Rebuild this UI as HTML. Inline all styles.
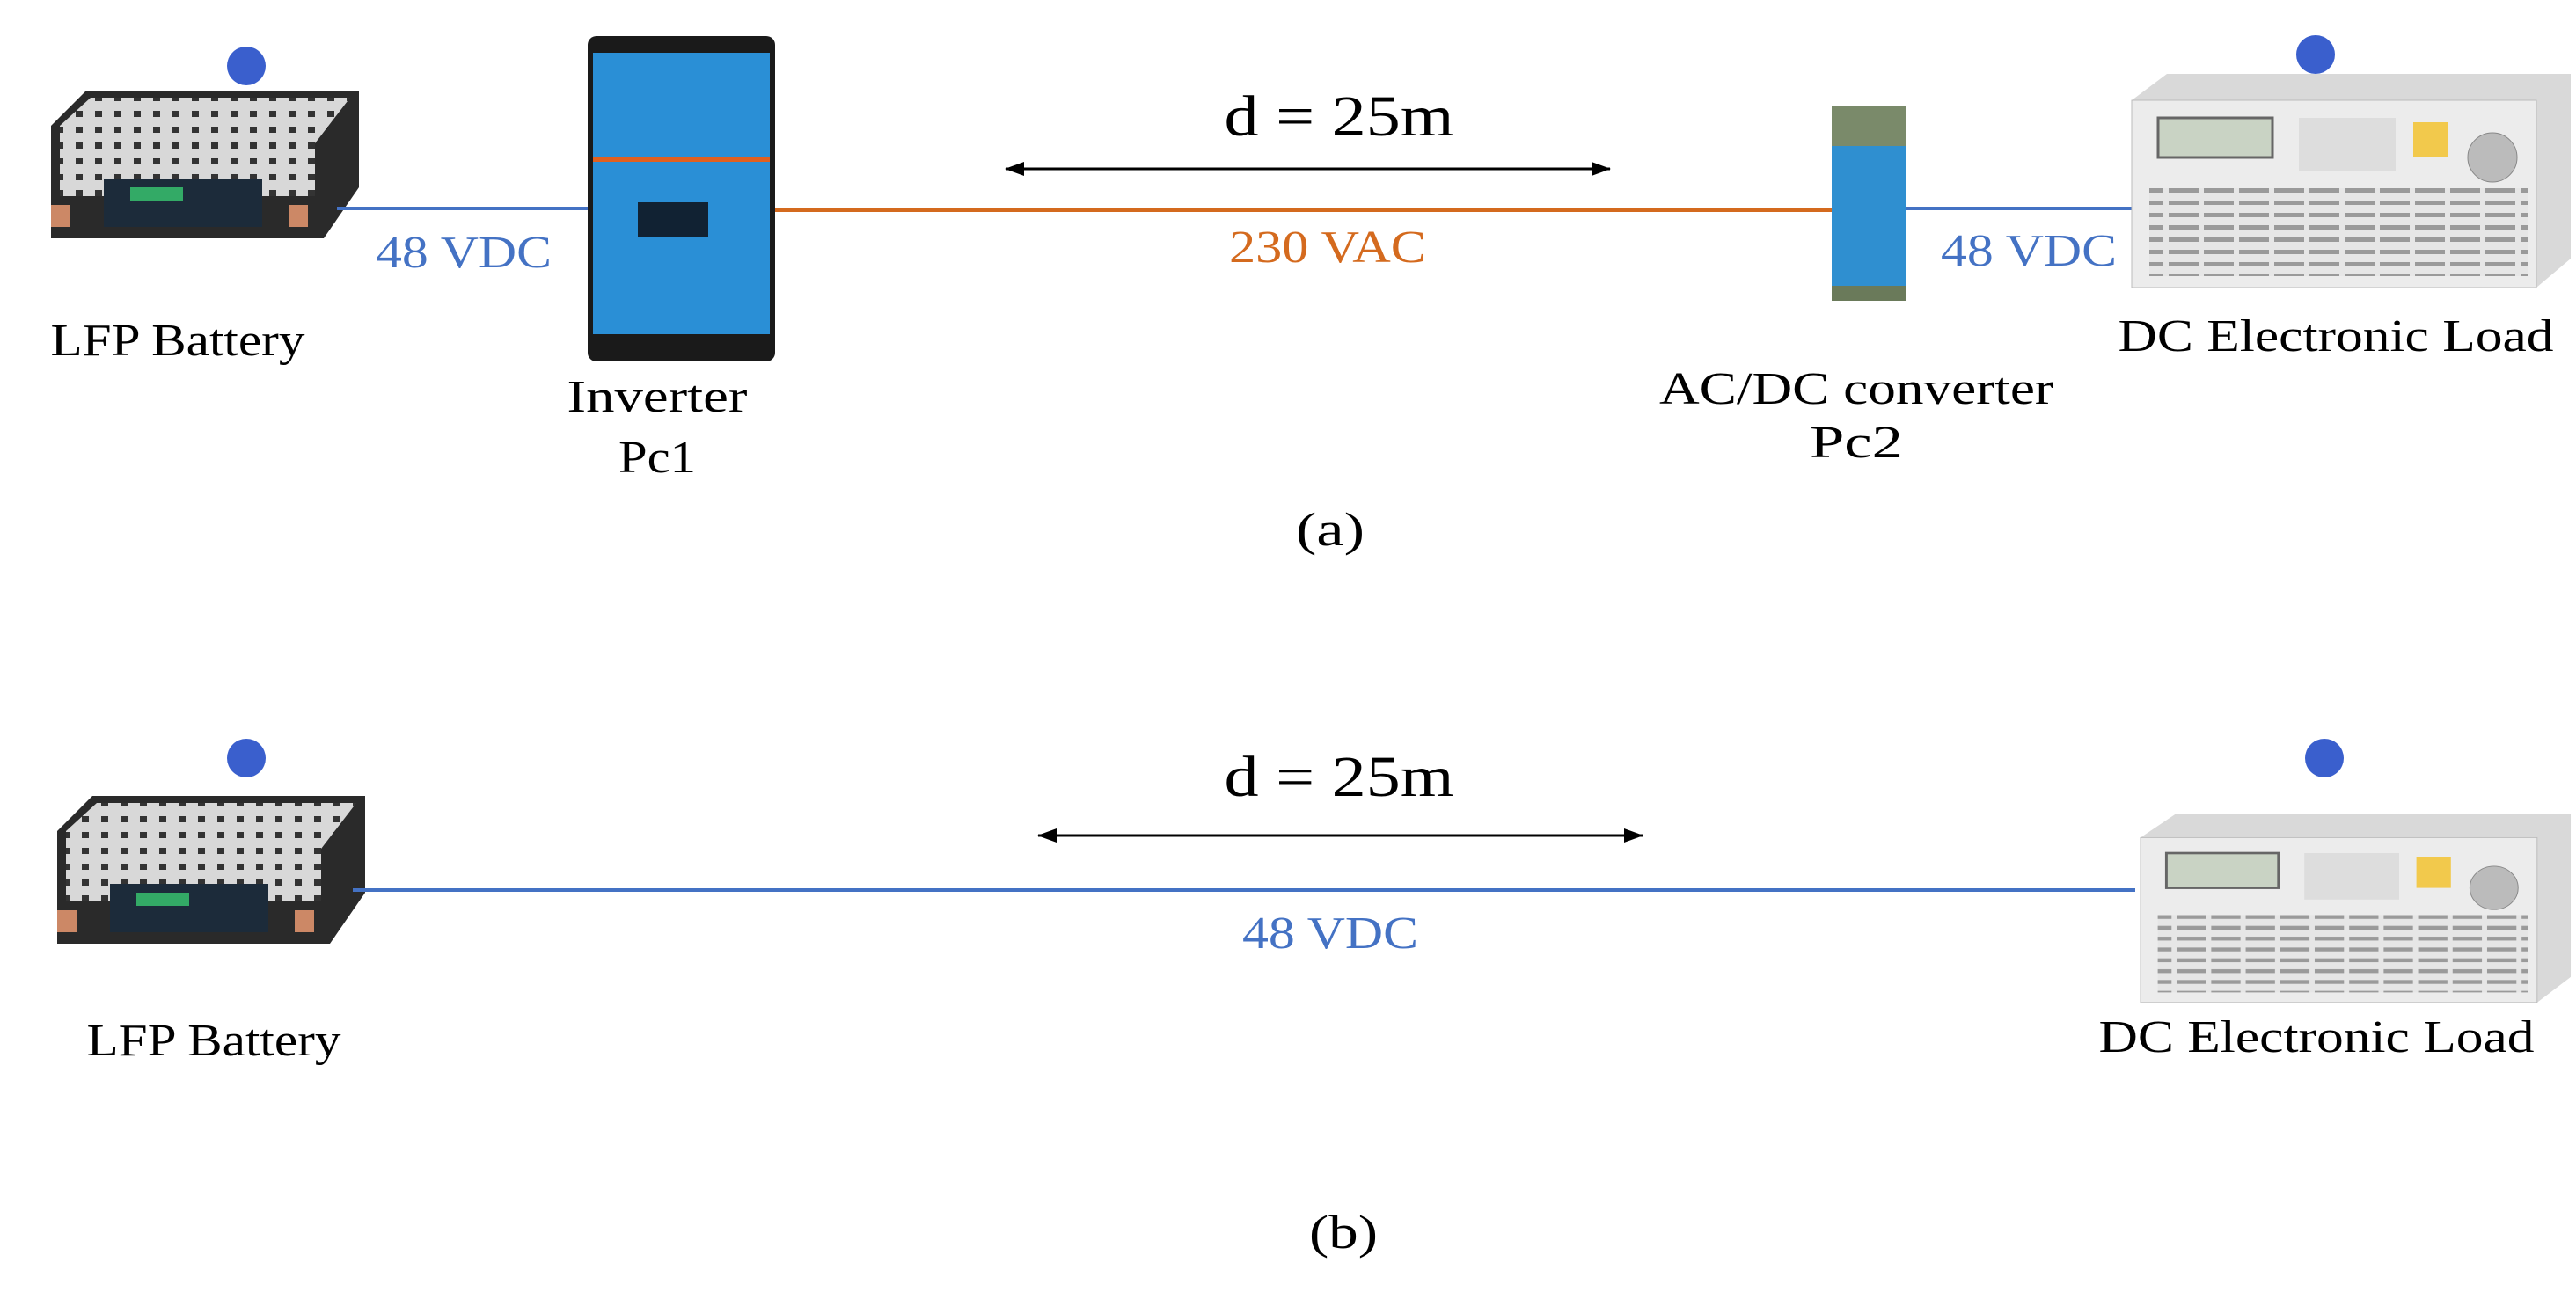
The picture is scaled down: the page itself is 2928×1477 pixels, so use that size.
<!DOCTYPE html>
<html><head><meta charset="utf-8"><style>
html,body{margin:0;padding:0;background:#fff;}
svg{display:block;}
text{font-family:"Liberation Serif",serif;}
</style></head><body>
<svg width="2928" height="1477" viewBox="0 0 2928 1477" xmlns="http://www.w3.org/2000/svg">
<defs>
<pattern id="grid" width="22" height="18" patternUnits="userSpaceOnUse">
<rect width="22" height="18" fill="#d8d8d8"/><rect x="6" y="5" width="8" height="7" fill="#333"/>
</pattern>
<pattern id="vent" width="40" height="14" patternUnits="userSpaceOnUse">
<rect width="40" height="14" fill="#e6e6e6"/><rect x="2" y="4" width="34" height="5" fill="#9a9a9a"/>
</pattern>
<marker id="ah" markerWidth="22" markerHeight="16" refX="21" refY="8" orient="auto-start-reverse" markerUnits="userSpaceOnUse">
<path d="M0,0 L22,8 L0,16 z" fill="#000"/>
</marker>
<g id="battery">
<polygon points="0,40 40,0 350,0 350,110 310,168 0,168" fill="#2a2a2a"/>
<polygon points="10,40 45,8 340,8 300,60 10,60" fill="url(#grid)"/>
<rect x="10" y="60" width="290" height="60" fill="url(#grid)"/>
<rect x="60" y="100" width="180" height="55" fill="#1c2b3a"/>
<rect x="90" y="110" width="60" height="15" fill="#3a6"/>
<rect x="0" y="130" width="22" height="25" fill="#c86"/>
<rect x="270" y="130" width="22" height="25" fill="#c86"/>
</g>
<g id="load">
<polygon points="0,30 40,0 499,0 499,210 460,243 0,243" fill="#d9d9d9"/>
<rect x="0" y="30" width="460" height="213" fill="#ececec" stroke="#bbb"/>
<rect x="30" y="50" width="130" height="45" fill="#c9d3c4" stroke="#666" stroke-width="3"/>
<rect x="190" y="50" width="110" height="60" fill="#ddd"/>
<rect x="320" y="55" width="40" height="40" fill="#f2c94c"/>
<circle cx="410" cy="95" r="28" fill="#bbb" stroke="#888"/>
<rect x="20" y="130" width="430" height="100" fill="url(#vent)"/>
</g>
</defs>

<!-- (a) -->
<circle cx="280" cy="75" r="22" fill="#3a5fcd"/>
<use href="#battery" x="58" y="103"/>
<line x1="383" y1="237" x2="668" y2="237" stroke="#4472c4" stroke-width="4"/>
<text x="527" y="304" font-size="52" fill="#4472c4" text-anchor="middle" textLength="200" lengthAdjust="spacingAndGlyphs">48 VDC</text>
<text x="202" y="404" font-size="52" text-anchor="middle" textLength="289" lengthAdjust="spacingAndGlyphs">LFP Battery</text>

<rect x="668" y="41" width="213" height="370" rx="10" fill="#1a1a1a"/>
<rect x="674" y="60" width="201" height="320" fill="#2a8fd6"/>
<rect x="674" y="178" width="201" height="6" fill="#e06020"/>
<rect x="725" y="230" width="80" height="40" fill="#123"/>
<text x="747" y="468" font-size="52" text-anchor="middle" textLength="205" lengthAdjust="spacingAndGlyphs">Inverter</text>
<text x="747" y="537" font-size="52" text-anchor="middle" textLength="88" lengthAdjust="spacingAndGlyphs">Pc1</text>

<text x="1522" y="154" font-size="66" text-anchor="middle" textLength="261" lengthAdjust="spacingAndGlyphs">d = 25m</text>
<line x1="1143" y1="192" x2="1830" y2="192" stroke="#000" stroke-width="3" marker-start="url(#ah)" marker-end="url(#ah)"/>
<line x1="881" y1="239" x2="2082" y2="239" stroke="#d46a1e" stroke-width="4"/>
<text x="1509" y="298" font-size="52" fill="#d46a1e" text-anchor="middle" textLength="224" lengthAdjust="spacingAndGlyphs">230 VAC</text>

<rect x="2082" y="121" width="84" height="221" fill="#2f8fd0"/>
<rect x="2082" y="121" width="84" height="45" fill="#7a8a6a"/>
<rect x="2082" y="325" width="84" height="17" fill="#6a7a5a"/>
<line x1="2166" y1="237" x2="2427" y2="237" stroke="#4472c4" stroke-width="4"/>
<text x="2306" y="302" font-size="52" fill="#4472c4" text-anchor="middle" textLength="200" lengthAdjust="spacingAndGlyphs">48 VDC</text>

<circle cx="2632" cy="62" r="22" fill="#3a5fcd"/>
<use href="#load" x="2423" y="84"/>
<text x="2655" y="399" font-size="52" text-anchor="middle" textLength="495" lengthAdjust="spacingAndGlyphs">DC Electronic Load</text>
<text x="2110" y="459" font-size="52" text-anchor="middle" textLength="448" lengthAdjust="spacingAndGlyphs">AC/DC converter</text>
<text x="2110" y="520" font-size="52" text-anchor="middle" textLength="106" lengthAdjust="spacingAndGlyphs">Pc2</text>
<text x="1512" y="620" font-size="54" text-anchor="middle" textLength="78" lengthAdjust="spacingAndGlyphs">(a)</text>

<!-- (b) -->
<circle cx="280" cy="862" r="22" fill="#3a5fcd"/>
<use href="#battery" x="65" y="905"/>
<line x1="401" y1="1012" x2="2427" y2="1012" stroke="#4472c4" stroke-width="4"/>
<text x="1522" y="905" font-size="66" text-anchor="middle" textLength="261" lengthAdjust="spacingAndGlyphs">d = 25m</text>
<line x1="1180" y1="950" x2="1867" y2="950" stroke="#000" stroke-width="3" marker-start="url(#ah)" marker-end="url(#ah)"/>
<text x="1512" y="1078" font-size="52" fill="#4472c4" text-anchor="middle" textLength="200" lengthAdjust="spacingAndGlyphs">48 VDC</text>
<text x="243" y="1200" font-size="52" text-anchor="middle" textLength="289" lengthAdjust="spacingAndGlyphs">LFP Battery</text>
<circle cx="2642" cy="862" r="22" fill="#3a5fcd"/>
<g transform="translate(2433,926) scale(0.98,0.88)"><use href="#load"/></g>
<text x="2633" y="1196" font-size="52" text-anchor="middle" textLength="495" lengthAdjust="spacingAndGlyphs">DC Electronic Load</text>
<text x="1527" y="1419" font-size="54" text-anchor="middle" textLength="78" lengthAdjust="spacingAndGlyphs">(b)</text>
</svg>
</body></html>
